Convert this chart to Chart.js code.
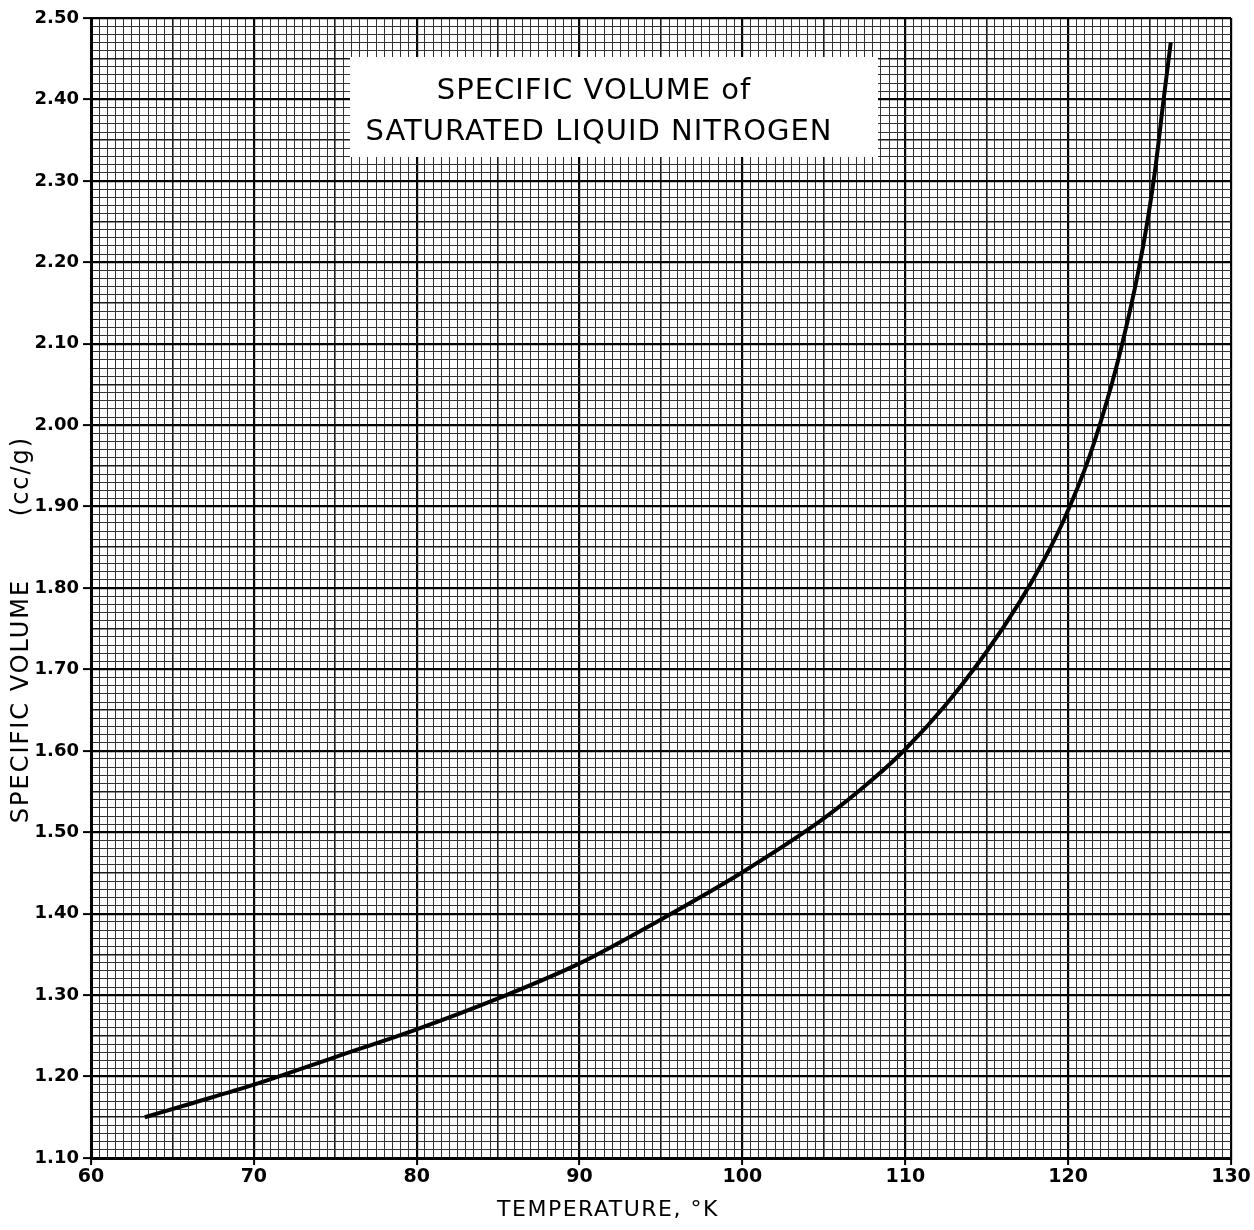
<!DOCTYPE html>
<html>
<head>
<meta charset="utf-8">
<script src="https://cdn.jsdelivr.net/npm/chart.js@4.4.0/dist/chart.umd.min.js"></script>
<style>
  html, body { margin: 0; padding: 0; background: #fff; }
</style>
</head>
<body>
<canvas id="volumeChart" width="1254" height="1230"></canvas>
<script>
// Values (temperature in K, specific volume in cc/g)
const temperatures = [63.3, 66, 70, 75, 80, 85, 90, 95, 100, 105, 108, 110, 112.5, 115, 117, 118.5, 119.7, 121.3, 122.7, 123.5, 124.3, 124.9, 125.35, 125.85, 126.3];
const specificVolumes = [1.150, 1.166, 1.190, 1.224, 1.258, 1.296, 1.339, 1.393, 1.451, 1.517, 1.565, 1.602, 1.657, 1.722, 1.782, 1.834, 1.882, 1.961, 2.052, 2.115, 2.188, 2.254, 2.315, 2.398, 2.470];

const xTickLabels = ['60', '70', '80', '90', '100', '110', '120', '130'];
const yTickLabels = ['1.10', '1.20', '1.30', '1.40', '1.50', '1.60', '1.70', '1.80', '1.90', '2.00', '2.10', '2.20', '2.30', '2.40', '2.50'];

const titleLines = ['SPECIFIC VOLUME of', 'SATURATED LIQUID NITROGEN'];
const xTitle = 'TEMPERATURE, \u00B0K';
const yTitle = 'SPECIFIC VOLUME';
const yUnit = '(cc/g)';

const FONT = '"DejaVu Sans", sans-serif';

// graph paper: heavy every 10 (0.10), medium every 5 (0.05), fine otherwise
function xLevel(v) {
    const h = Math.round(v * 2);
    if (h % 20 === 0) return 2;
    if (h % 10 === 0) return 1;
    return 0;
}
function yLevel(v) {
    const h = Math.round(v * 100);
    if (h % 10 === 0) return 2;
    if (h % 5 === 0) return 1;
    return 0;
}
const lineColors = ['#333', '#1a1a1a', '#000'];
const lineWidths = [1, 1.6, 2.2];

const paperLabels = {
    id: 'paperLabels',
    beforeDatasetsDraw(chart) {
        const ctx = chart.ctx;
        ctx.save();
        // title box
        ctx.fillStyle = '#fff';
        ctx.fillRect(350, 57, 528, 100);
        ctx.fillStyle = '#000';
        ctx.textAlign = 'center';
        ctx.textBaseline = 'middle';
        ctx.font = '29px ' + FONT;
        ctx.letterSpacing = '1px';
        ctx.fillText(titleLines[0], 594, 91);
        ctx.fillText(titleLines[1], 599, 132);
        ctx.restore();
    },
    afterDraw(chart) {
        const ctx = chart.ctx;
        ctx.save();
        ctx.fillStyle = '#000';
        ctx.textAlign = 'center';
        ctx.textBaseline = 'middle';
        ctx.font = '22px ' + FONT;
        ctx.letterSpacing = '1.5px';
        ctx.fillText(xTitle, 608, 1210);
        ctx.translate(22, 0);
        ctx.rotate(-Math.PI / 2);
        ctx.font = '24px ' + FONT;
        ctx.letterSpacing = '2px';
        ctx.fillText(yTitle, -701, 0);
        ctx.fillText(yUnit, -476, 0);
        ctx.restore();
    }
};

const ctx = document.getElementById('volumeChart');

let chart = new Chart(ctx, {
    type: 'line',
    data: {
        datasets: [{
            label: 'Specific volume',
            data: temperatures.map((t, i) => ({ x: t, y: specificVolumes[i] })),
            borderColor: '#000',
            borderWidth: 4,
            pointRadius: 0,
            fill: false,
            cubicInterpolationMode: 'monotone'
        }]
    },
    plugins: [paperLabels],
    options: {
        responsive: false,
        animation: false,
        devicePixelRatio: 1,
        layout: {
            padding: { top: 18, right: 23, left: 0, bottom: 0 }
        },
        scales: {
            x: {
                type: 'linear',
                min: 60,
                max: 130,
                afterFit: function (scale) { scale.height = 72; },
                ticks: {
                    stepSize: 0.5,
                    autoSkip: false,
                    maxRotation: 0,
                    padding: 1,
                    color: '#000',
                    font: { family: FONT, size: 19, weight: 'bold' },
                    callback: function (value) {
                        return xLevel(value) === 2 ? xTickLabels[Math.round((value - 60) / 10)] : '';
                    }
                },
                grid: {
                    color: c => lineColors[xLevel(c.tick.value)],
                    lineWidth: c => lineWidths[xLevel(c.tick.value)],
                    tickColor: c => xLevel(c.tick.value) === 2 ? '#000' : 'rgba(0,0,0,0)',
                    tickWidth: 2,
                    tickLength: 7
                },
                border: { color: '#000', width: 3 }
            },
            y: {
                min: 1.10,
                max: 2.50,
                afterFit: function (scale) { scale.width = 91; },
                ticks: {
                    stepSize: 0.01,
                    autoSkip: false,
                    padding: 4,
                    color: '#000',
                    font: { family: FONT, size: 18, weight: 'bold' },
                    callback: function (value) {
                        return yLevel(value) === 2 ? yTickLabels[Math.round((value - 1.10) * 10)] : '';
                    }
                },
                grid: {
                    color: c => lineColors[yLevel(c.tick.value)],
                    lineWidth: c => lineWidths[yLevel(c.tick.value)],
                    tickColor: c => yLevel(c.tick.value) === 2 ? '#000' : 'rgba(0,0,0,0)',
                    tickWidth: 2,
                    tickLength: 8
                },
                border: { color: '#000', width: 3 }
            }
        },
        plugins: {
            legend: { display: false },
            tooltip: { enabled: false },
            title: { display: false }
        }
    }
});
</script>
</body>
</html>
